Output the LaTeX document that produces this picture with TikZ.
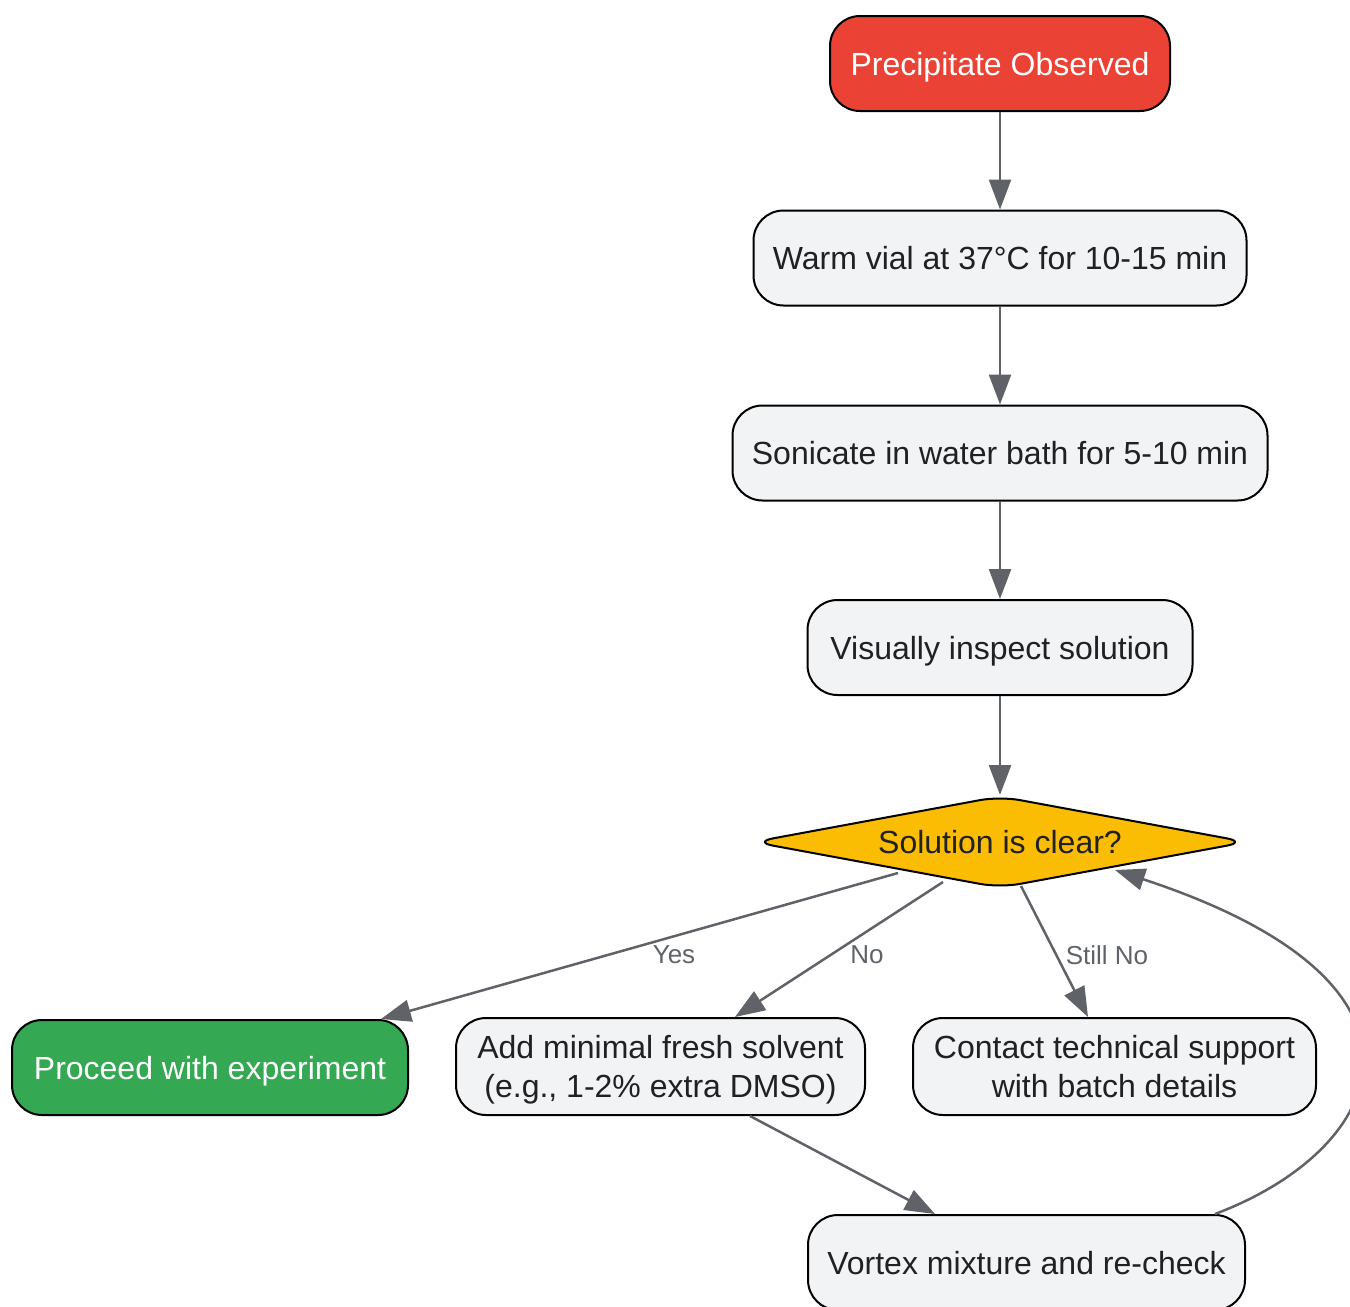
\documentclass[tikz,border=0pt]{standalone}
\usepackage{fontspec}
\setmainfont{Liberation Sans}
\usetikzlibrary{shapes.geometric,arrows.meta,calc}
\definecolor{boxfill}{HTML}{F1F3F4}
\definecolor{txt}{HTML}{202124}
\definecolor{edge}{HTML}{5F6368}
\definecolor{redfill}{HTML}{EA4335}
\definecolor{greenfill}{HTML}{34A853}
\definecolor{yellowfill}{HTML}{FBBC04}
\tikzset{
  base/.style={draw=black, line width=2pt, rounded corners=30pt, minimum height=95pt,
    inner sep=0pt, align=center, text depth=0pt, font=\fontsize{32}{38.5}\selectfont},
  stepbox/.style={base, fill=boxfill, text=txt},
  startbox/.style={base, fill=redfill, text=white},
  endbox/.style={base, fill=greenfill, text=white},
  decision/.style={draw=black, line width=2pt, shape=diamond, fill=yellowfill, text=txt,
    aspect=5.5, minimum width=494pt, minimum height=92pt, inner sep=0pt, rounded corners=20pt,
    text depth=0pt, font=\fontsize{32}{38.5}\selectfont},
  conn/.style={draw=edge, line width=2.5pt, -{Triangle[length=30pt,width=22pt]}},
  elabel/.style={text=edge, font=\fontsize{26}{30}\selectfont, inner sep=0pt}
}
\begin{document}
\begin{tikzpicture}[x=1pt,y=-1pt]
\useasboundingbox (0,0) rectangle (1350,1307);
\clip (0,0) rectangle (1350,1307);
\node[startbox, minimum width=340pt] (prec) at (1000,63.5) {Precipitate Observed};
\node[stepbox, minimum width=493pt] (warm) at (1000,258) {Warm vial at 37°C for 10-15 min};
\node[stepbox, minimum width=535pt] (soni) at (1000,453) {Sonicate in water bath for 5-10 min};
\node[stepbox, minimum width=385pt] (vis) at (1000,647.5) {Visually inspect solution};
\node[decision] (dia) at (1000,842) {Solution is clear?};
\node[endbox, minimum width=396pt] (proc) at (210,1067.5) {Proceed with experiment};
\node[stepbox, minimum width=409pt, minimum height=97pt] (add) at (660.5,1066.5) {Add minimal fresh solvent\\(e.g., 1-2\% extra DMSO)};
\node[stepbox, minimum width=403pt, minimum height=97pt] (cont) at (1114.5,1066.5) {Contact technical support\\with batch details};
\node[stepbox, minimum width=437pt] (vort) at (1026.5,1262.5) {Vortex mixture and re-check};

\draw[conn] (prec.south) -- (warm.north);
\draw[conn] (warm.south) -- (soni.north);
\draw[conn] (soni.south) -- (vis.north);
\draw[conn] (vis.south) -- (dia.north);

\draw[conn] ($(dia.center)+(-102,31)$) -- ($(proc.north east)+(-28,0)$);
\draw[conn] ($(dia.center)+(-57,40)$) -- ($(add.north)+(74.5,0)$);
\draw[conn] ($(dia.center)+(21,44)$) -- ($(cont.north)+(-26.5,0)$);
\draw[conn] ($(add.south)+(89.5,0)$) -- ($(vort.north)+(-91.5,0)$);
\draw[conn] ($(vort.north)+(188.5,0)$) .. controls (1385,1150) and (1465,985) .. ($(dia.center)+(115,28)$);

\node[elabel] (lyes) at (674,955) {Yes};
\node[elabel] (lno) at (867,955) {No};
\node[elabel] (lstill) at (1107,955) {Still No};
\end{tikzpicture}
\end{document}
